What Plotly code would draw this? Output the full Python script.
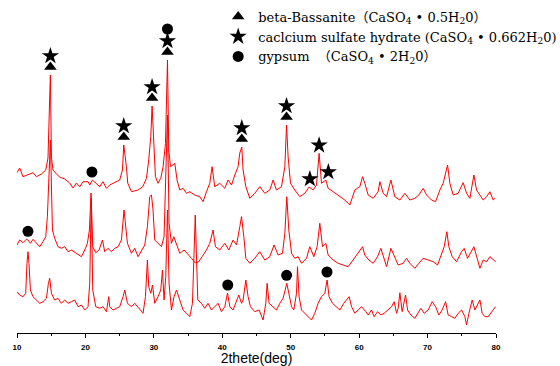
import plotly.graph_objects as go

# ---------------- data (2theta in degrees, intensity in arbitrary counts) ----------------
theta_top = [10.0, 10.39, 10.88, 11.61, 12.34, 12.84, 13.57, 14.2, 14.53, 14.78, 14.88, 15.03, 15.26, 15.76,
             16.24, 16.97, 17.7, 18.19, 18.68, 19.17, 19.65, 20.38, 20.63, 21.02, 21.61, 22.09, 22.57, 23.07,
             23.55, 24.04, 24.53, 25.01, 25.41, 25.6, 25.99, 26.18, 26.73, 27.69, 28.38, 28.92, 29.25, 29.55,
             29.74, 30.03, 30.23, 30.61, 31.01, 31.35, 31.7, 31.99, 32.18, 32.43, 32.72, 33.06, 33.39, 33.79,
             34.27, 34.77, 35.25, 35.98, 36.71, 37.19, 37.69, 38.17, 38.51, 38.9, 39.63, 40.37, 40.85, 41.35,
             41.83, 42.31, 42.56, 42.85, 43.04, 43.44, 44.02, 44.75, 45.48, 46.21, 46.94, 47.43, 47.92, 48.65,
             49.14, 49.39, 49.62, 49.97, 50.6, 51.33, 52.06, 52.69, 53.27, 53.77, 54.15, 54.5, 55.13, 55.47,
             56.2, 57.18, 57.91, 58.64, 59.37, 60.1, 60.5, 60.83, 61.32, 62.05, 62.78, 63.03, 63.51, 64.01,
             64.64, 65.22, 65.95, 66.68, 67.41, 68.14, 68.73, 69.36, 69.85, 70.58, 71.17, 71.8, 72.28, 72.92,
             73.26, 73.74, 74.47, 75.2, 75.7, 76.18, 76.77, 77.16, 77.65, 78.13, 78.63, 79.11, 79.59, 79.84]
counts_top = [20.3, 25, 16.3, 18, 20.3, 16.3, 19, 23, 35, 96, 118, 36, 23, 19,
              16, 14, 10, 5, 10, 6.3, 11.3, 11.3, 8, 13, 9.7, 6.3, 11.3, 4.7,
              8, 9.7, 11.3, 13, 23, 48, 26.3, 10, 1.3, 3, 6.3, 14.7, 33, 56.3,
              87, 43, 16.3, 9.7, 14.7, 26.3, 49.7, 133, 43, 26.3, 28, 29.7, 13, 3,
              4.7, -0.3, 1.3, -2, -3.7, -8.7, 1.3, 9.7, 26.3, 6.3, 9.7, 4.7, 13, 8,
              18, 26.3, 40, 46, 23, 6.3, -5.3, -0.3, 6.3, -0.3, 3, 13, 3, 6.3,
              26.3, 68, 36.3, 9.7, 3, -3.7, -0.3, 6, 3, 8, 39.7, 9.7, 13, 4.7,
              1.3, -3.7, -7, -12, 3, 6.3, 16.3, 9.7, -2, -5.3, 1.3, 11.3, -0.3, -3.7,
              13, -3.7, -7, -0.3, -7, -5.3, -2, 4.7, -2, -7, -8.7, 3, 9.7, 28,
              9.7, -2, -0.3, 10.3, -0.3, -5.3, 18, 3, -2, -7, -3.7, 1.3, -7, -5.3]

theta_mid = [10.0, 10.39, 10.88, 11.37, 11.61, 11.96, 12.34, 12.84, 13.32, 13.8, 14.2, 14.44, 14.68, 14.88,
             15.18, 15.51, 15.99, 16.49, 16.97, 17.46, 17.95, 18.68, 19.42, 19.9, 20.29, 20.58, 20.82, 21.07,
             21.51, 21.99, 22.49, 22.82, 23.3, 23.8, 24.28, 24.77, 25.26, 25.64, 26.14, 26.73, 27.21, 27.69,
             28.19, 28.67, 29.06, 29.4, 29.65, 29.88, 30.13, 30.61, 31.11, 31.49, 31.74, 31.99, 32.22, 32.57,
             32.91, 33.3, 33.79, 34.42, 35.0, 35.5, 36.08, 36.56, 37.05, 37.69, 38.17, 38.65, 39.0, 39.63,
             40.37, 40.95, 41.58, 42.08, 42.56, 42.81, 43.15, 43.44, 44.02, 44.75, 45.48, 46.21, 46.94, 47.57,
             48.16, 48.8, 49.14, 49.43, 49.72, 50.12, 50.6, 51.08, 51.58, 52.31, 52.79, 53.38, 53.86, 54.25,
             54.65, 55.13, 55.47, 56.2, 56.93, 57.66, 58.39, 59.12, 59.85, 60.5, 60.83, 61.42, 62.05, 62.69,
             63.17, 63.51, 64.01, 64.64, 65.12, 65.7, 66.43, 66.93, 67.41, 68.14, 68.73, 69.36, 70.09, 70.82,
             71.46, 71.94, 72.43, 72.82, 73.11, 73.6, 74.24, 74.97, 75.35, 75.85, 76.33, 76.77, 77.25, 77.65,
             78.13, 78.63, 79.11, 79.59, 79.94]
counts_mid = [18, 23, 20.3, 23.7, 23, 19.7, 23.7, 19.7, 16.3, 21.3, 26.3, 46.3, 93, 123,
              33, 24.7, 16.3, 14.7, 16.3, 11.3, 13, 9.7, 6.3, 13, 19.7, 33, 70, 16.3,
              10.3, 13, 23, 11.3, 14.7, 11.3, 14.7, 16.3, 23, 53, 19.7, 9.7, 14.7, 6.3,
              13, 18, 36.3, 66.3, 68, 53, 23, 19.7, 16.3, 26.3, 79.7, 148, 39.7, 19.7,
              26.3, 19.7, 9.7, 13, 8, 4.7, 0, 1.3, 6.3, 13, 19.7, 33, 16.3, 13,
              19.7, 13, 23, 18, 36.3, 46.3, 26.3, 4.7, -0.3, 4.7, 11.3, 3, 6.3, 18,
              8, 9.7, 29.7, 66.3, 33, 9.7, 4.7, 6.3, -0.3, 4.7, 16.3, 6.3, 16.3, 39.7,
              16.3, 19.7, 8, 3, -0.3, -2, -3.7, 3, 9.7, 16.3, 8, 3, -0.3, 6.3,
              14.7, 8, -3.7, 14.7, 6.3, -2, -0.3, 4.7, -0.3, -5.3, -0.3, 4.7, 3, 1.3,
              -2, 8, 16.3, 31.3, 16.3, 6.3, 1.3, 11.3, 14.7, 4.7, 11.3, 16.3, 4.7, -5.3,
              3, 1.3, 6.3, 3.7, 1.3]

theta_bot = [10.0, 10.39, 10.88, 11.27, 11.46, 11.61, 11.75, 11.96, 12.34, 12.84, 13.32, 13.8, 14.3, 14.59,
             14.78, 15.03, 15.51, 15.99, 16.49, 16.97, 17.46, 17.95, 18.44, 18.92, 19.42, 19.9, 20.38, 20.63,
             20.85, 21.07, 21.51, 22.09, 22.57, 23.07, 23.41, 23.55, 24.04, 24.53, 25.01, 25.5, 25.75, 26.14,
             26.73, 27.21, 27.94, 28.42, 28.77, 29.06, 29.25, 29.55, 29.8, 30.13, 30.61, 31.01, 31.26, 31.49,
             31.74, 31.99, 32.22, 32.57, 32.95, 33.3, 33.79, 34.27, 34.77, 35.25, 35.64, 36.05, 36.42, 36.96,
             37.44, 37.92, 38.42, 38.9, 39.39, 39.88, 40.37, 40.76, 41.1, 41.58, 42.08, 42.41, 42.81, 43.04,
             43.44, 43.77, 44.12, 44.75, 45.38, 45.96, 46.36, 46.55, 46.84, 47.43, 47.92, 48.41, 48.89, 49.43,
             49.77, 50.12, 50.45, 50.85, 50.99, 51.23, 51.58, 52.06, 52.54, 53.04, 53.52, 54.0, 54.5, 54.98,
             55.32, 55.61, 56.11, 56.7, 57.18, 57.76, 58.16, 58.54, 58.89, 59.37, 59.85, 60.35, 60.98, 61.32,
             61.81, 62.19, 62.69, 63.17, 63.65, 64.15, 64.74, 65.12, 65.47, 65.7, 65.95, 66.29, 66.58, 66.78,
             67.08, 67.56, 68.14, 68.63, 69.02, 69.5, 70.09, 70.67, 71.17, 71.65, 72.13, 72.63, 73.01, 73.51,
             73.99, 74.47, 74.97, 75.45, 75.7, 76.04, 76.52, 76.91, 77.65, 77.98, 78.38, 78.86, 79.36, 79.94]
counts_bot = [41.3, 38, 36.3, 39.7, 69.7, 81.3, 69.7, 43, 36.3, 33, 29.7, 31.3, 34.7, 49.7,
              54.7, 39.7, 33, 34.7, 29.7, 33, 29.7, 31.3, 33, 26.3, 28, 23, 26.3, 49.7,
              135, 43, 26.3, 24.7, 26.3, 21.3, 36.3, 26.3, 23, 24.7, 26.3, 36.3, 43, 29.7,
              26.3, 29.7, 23, 19.7, 36.3, 73, 46.3, 39.7, 48, 29.7, 36.3, 43, 63, 33,
              56.3, 123, 49.7, 23, 36.3, 43, 33, 23, 19.7, 16.3, 29.7, 118, 33, 29.7,
              24.7, 29.7, 23, 26.3, 29.7, 21.3, 26.3, 40, 26.3, 23, 33, 38, 29.7, 33,
              53, 36.3, 26.3, 21.3, 23, 13, 29.7, 49.7, 29.7, 26.3, 23, 29.7, 34.7, 49.7,
              39.7, 26.3, 23, 39.7, 66.3, 36.3, 23, 19.7, 16.3, 13, 19.7, 29.7, 36.3, 39.7,
              53, 36.3, 29.7, 26.3, 23, 29.7, 33, 36.3, 26.3, 19.7, 23, 26.3, 21.3, 18,
              23, 16.3, 21.3, 18, 19.7, 23, 26.3, 31.3, 19.7, 24.7, 40.3, 21.3, 29.7, 38,
              23, 18, 14.7, 19.7, 24.7, 19.7, 23, 31.3, 26.3, 18, 23, 31.3, 18, 16.3,
              14.7, 19.7, 23, 16.3, 8, 19.7, 33, 23, 33, 19.7, 16.3, 16.3, 21.3, 26.3]

# vertical stacking offsets of the three patterns
offsets = {"top": 140, "mid": 70, "bot": 0}

# phase identification marks: (pattern, 2theta, stack level above the peak)
bassanite_marks = [("top", 14.88, 0), ("top", 25.6, 0), ("top", 29.74, 0), ("top", 31.99, 0),
                   ("top", 42.85, 0), ("top", 49.39, 0)]
hydrate_marks = [("top", 14.88, 1), ("top", 25.6, 1), ("top", 29.74, 1), ("top", 31.99, 1),
                 ("top", 42.85, 1), ("top", 49.39, 1), ("top", 52.8, 0), ("top", 54.15, 0),
                 ("top", 55.5, 0)]
gypsum_marks = [("top", 20.95, 0), ("top", 31.99, 2), ("mid", 11.6, 0), ("bot", 40.8, 0),
                ("bot", 49.4, 0), ("bot", 55.3, 0)]

x_ticks = [10, 20, 30, 40, 50, 60, 70, 80]

legend_names = ["beta-Bassanite（CaSO<sub>4</sub> • 0.5H<sub>2</sub>0）",
                "caclcium sulfate hydrate (CaSO<sub>4</sub> • 0.662H<sub>2</sub>0)",
                "gypsum  （CaSO<sub>4</sub> • 2H<sub>2</sub>0）"]

# ---------------- figure ----------------
patterns = {"top": (theta_top, counts_top), "mid": (theta_mid, counts_mid), "bot": (theta_bot, counts_bot)}
level_gap = [8, 19, 31]

fig = go.Figure()
for key in ["bot", "mid", "top"]:
    th, ct = patterns[key]
    fig.add_trace(go.Scatter(x=th, y=[c + offsets[key] for c in ct], mode="lines",
                             line=dict(color="#ff0000", width=1), showlegend=False, hoverinfo="skip"))


def mark_positions(marks):
    xs, ys = [], []
    for key, ang, lvl in marks:
        th, ct = patterns[key]
        local = [c for t, c in zip(th, ct) if abs(t - ang) <= 0.4]
        xs.append(ang)
        ys.append(max(local) + offsets[key] + level_gap[lvl])
    return xs, ys


for marks, sym, size, name in [(bassanite_marks, "triangle-up", 11, legend_names[0]),
                                (hydrate_marks, "star", 13, legend_names[1]),
                                (gypsum_marks, "circle", 11, legend_names[2])]:
    mx, my = mark_positions(marks)
    fig.add_trace(go.Scatter(x=mx, y=my, mode="markers", name=name, cliponaxis=False,
                             marker=dict(symbol=sym, size=size, color="black", line=dict(width=0))))

fig.update_layout(
    width=560, height=366,
    margin=dict(l=17, r=64, t=0, b=33, autoexpand=False),
    paper_bgcolor="white", plot_bgcolor="white",
    showlegend=True,
    legend=dict(x=0.42, y=0.995, xanchor="left", yanchor="top", bgcolor="rgba(0,0,0,0)",
                font=dict(family="DejaVu Serif, Noto Sans CJK SC", size=13, color="black"),
                tracegroupgap=0, itemwidth=30),
    xaxis=dict(range=[10, 80], tickvals=x_ticks, ticktext=[str(v) for v in x_ticks],
               showline=True, linecolor="black", linewidth=1, showgrid=False, zeroline=False,
               ticks="outside", ticklen=4, tickcolor="black", tickwidth=1, ticklabelstandoff=2,
               minor=dict(dtick=5, tick0=0, ticks="outside", ticklen=2, tickcolor="black", showgrid=False),
               tickfont=dict(family="Liberation Sans", size=8, color="black", weight="bold"),
               title=dict(text="2thete(deg)", font=dict(family="Liberation Sans", size=14, color="black"),
                          standoff=3)),
    yaxis=dict(range=[0, 333], visible=False),
)

fig.write_html("out.html", config={"displayModeBar": False},
               post_script="document.body.style.margin='0';")
